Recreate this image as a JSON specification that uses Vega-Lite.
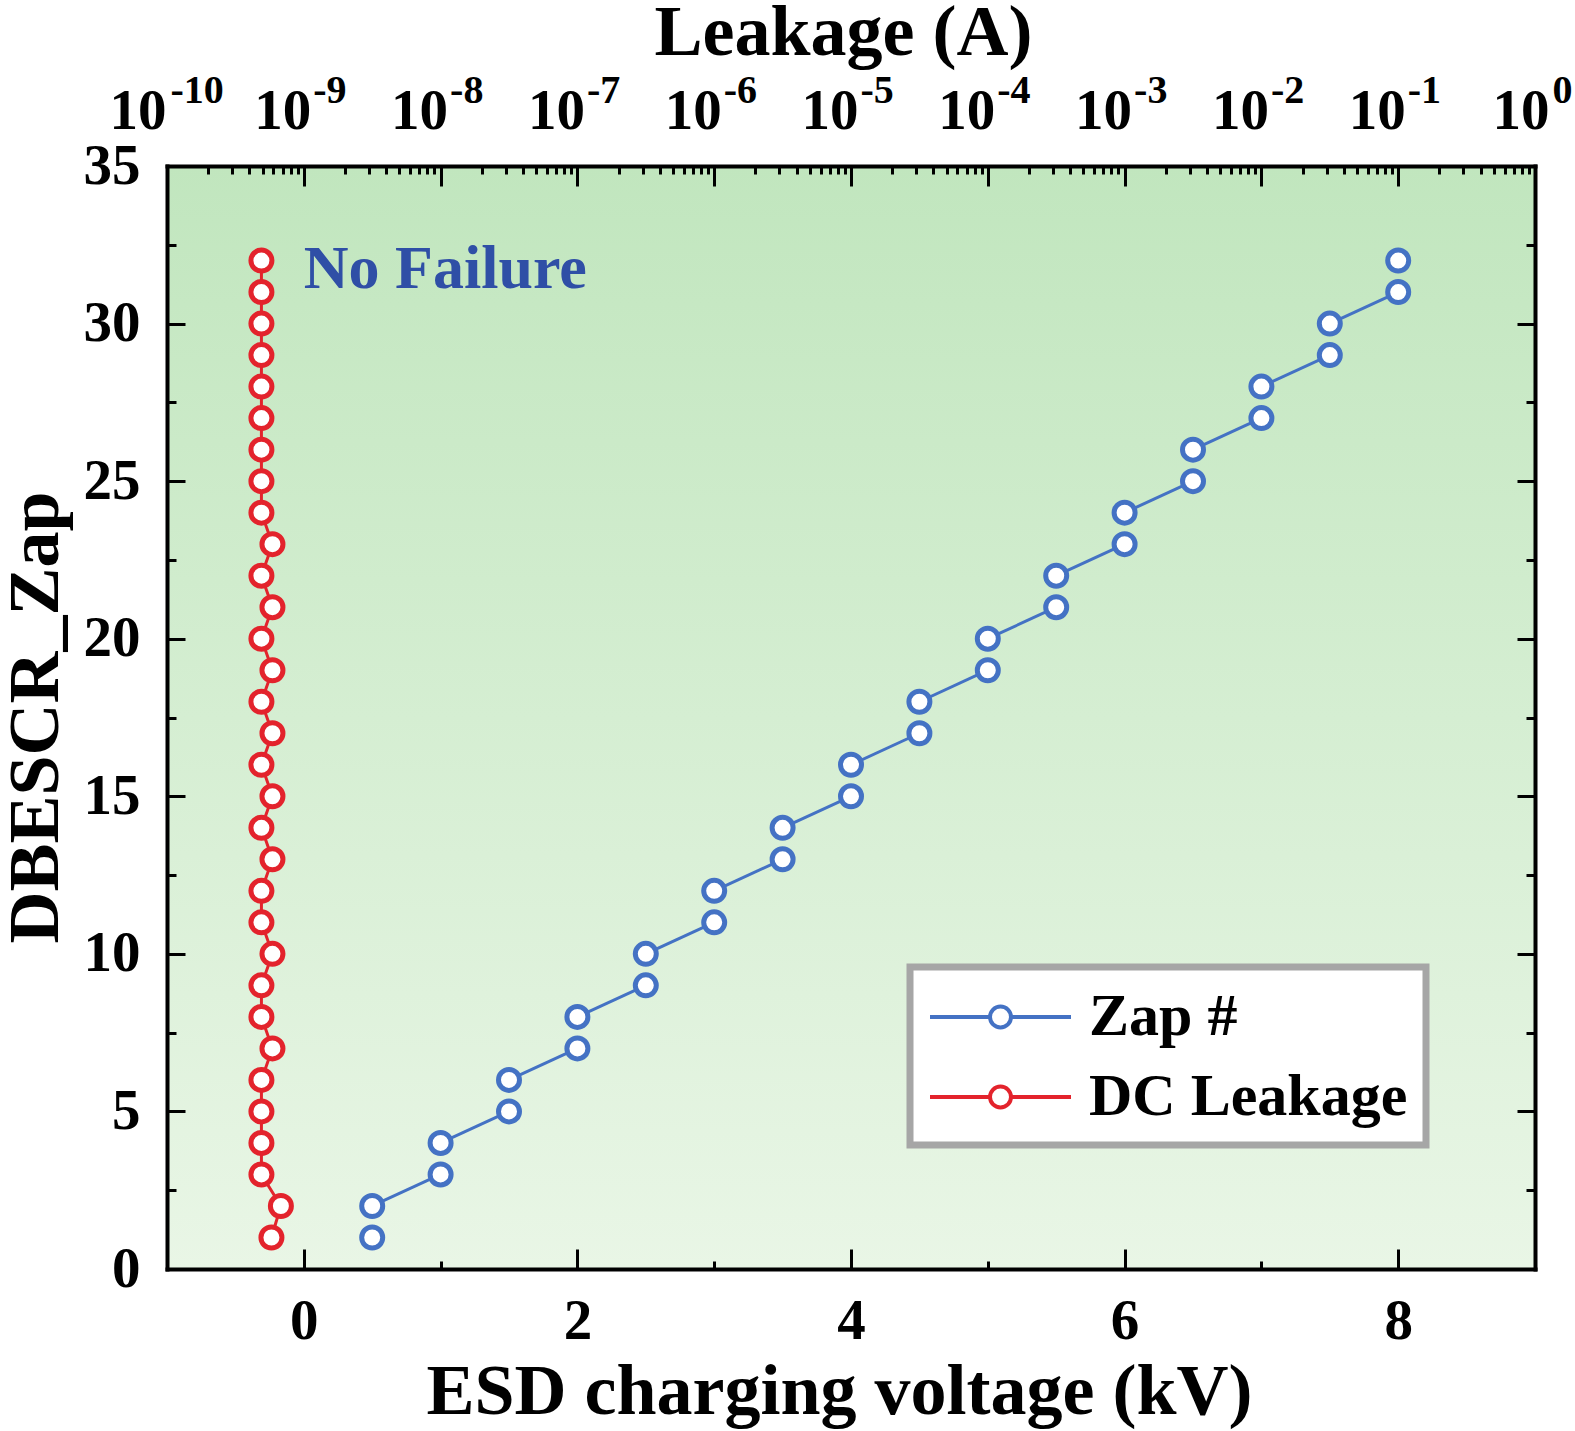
{
  "$schema": "https://vega.github.io/schema/vega-lite/v6.json",
  "description": "DBESCR zap count vs ESD charging voltage, with DC leakage on a log top axis",
  "width": 1368,
  "height": 1103,
  "autosize": {"type": "none"},
  "padding": {"left": 167, "top": 166, "right": 40, "bottom": 162},
  "background": "white",
  "datasets": {
    "zap": [
      {"kv": 0.5, "zap": 1, "seg": 0, "series": "Zap #"},
      {"kv": 0.5, "zap": 2, "seg": 1, "series": "Zap #"},
      {"kv": 1.0, "zap": 3, "seg": 1, "series": "Zap #"},
      {"kv": 1.0, "zap": 4, "seg": 2, "series": "Zap #"},
      {"kv": 1.5, "zap": 5, "seg": 2, "series": "Zap #"},
      {"kv": 1.5, "zap": 6, "seg": 3, "series": "Zap #"},
      {"kv": 2.0, "zap": 7, "seg": 3, "series": "Zap #"},
      {"kv": 2.0, "zap": 8, "seg": 4, "series": "Zap #"},
      {"kv": 2.5, "zap": 9, "seg": 4, "series": "Zap #"},
      {"kv": 2.5, "zap": 10, "seg": 5, "series": "Zap #"},
      {"kv": 3.0, "zap": 11, "seg": 5, "series": "Zap #"},
      {"kv": 3.0, "zap": 12, "seg": 6, "series": "Zap #"},
      {"kv": 3.5, "zap": 13, "seg": 6, "series": "Zap #"},
      {"kv": 3.5, "zap": 14, "seg": 7, "series": "Zap #"},
      {"kv": 4.0, "zap": 15, "seg": 7, "series": "Zap #"},
      {"kv": 4.0, "zap": 16, "seg": 8, "series": "Zap #"},
      {"kv": 4.5, "zap": 17, "seg": 8, "series": "Zap #"},
      {"kv": 4.5, "zap": 18, "seg": 9, "series": "Zap #"},
      {"kv": 5.0, "zap": 19, "seg": 9, "series": "Zap #"},
      {"kv": 5.0, "zap": 20, "seg": 10, "series": "Zap #"},
      {"kv": 5.5, "zap": 21, "seg": 10, "series": "Zap #"},
      {"kv": 5.5, "zap": 22, "seg": 11, "series": "Zap #"},
      {"kv": 6.0, "zap": 23, "seg": 11, "series": "Zap #"},
      {"kv": 6.0, "zap": 24, "seg": 12, "series": "Zap #"},
      {"kv": 6.5, "zap": 25, "seg": 12, "series": "Zap #"},
      {"kv": 6.5, "zap": 26, "seg": 13, "series": "Zap #"},
      {"kv": 7.0, "zap": 27, "seg": 13, "series": "Zap #"},
      {"kv": 7.0, "zap": 28, "seg": 14, "series": "Zap #"},
      {"kv": 7.5, "zap": 29, "seg": 14, "series": "Zap #"},
      {"kv": 7.5, "zap": 30, "seg": 15, "series": "Zap #"},
      {"kv": 8.0, "zap": 31, "seg": 15, "series": "Zap #"},
      {"kv": 8.0, "zap": 32, "seg": 16, "series": "Zap #"}
    ],
    "leak": [
      {"zap": 1, "leak": 5.8e-10, "series": "DC Leakage"},
      {"zap": 2, "leak": 6.8e-10, "series": "DC Leakage"},
      {"zap": 3, "leak": 4.9e-10, "series": "DC Leakage"},
      {"zap": 4, "leak": 4.9e-10, "series": "DC Leakage"},
      {"zap": 5, "leak": 4.9e-10, "series": "DC Leakage"},
      {"zap": 6, "leak": 4.9e-10, "series": "DC Leakage"},
      {"zap": 7, "leak": 5.9e-10, "series": "DC Leakage"},
      {"zap": 8, "leak": 4.9e-10, "series": "DC Leakage"},
      {"zap": 9, "leak": 4.9e-10, "series": "DC Leakage"},
      {"zap": 10, "leak": 5.9e-10, "series": "DC Leakage"},
      {"zap": 11, "leak": 4.9e-10, "series": "DC Leakage"},
      {"zap": 12, "leak": 4.9e-10, "series": "DC Leakage"},
      {"zap": 13, "leak": 5.9e-10, "series": "DC Leakage"},
      {"zap": 14, "leak": 4.9e-10, "series": "DC Leakage"},
      {"zap": 15, "leak": 5.9e-10, "series": "DC Leakage"},
      {"zap": 16, "leak": 4.9e-10, "series": "DC Leakage"},
      {"zap": 17, "leak": 5.9e-10, "series": "DC Leakage"},
      {"zap": 18, "leak": 4.9e-10, "series": "DC Leakage"},
      {"zap": 19, "leak": 5.9e-10, "series": "DC Leakage"},
      {"zap": 20, "leak": 4.9e-10, "series": "DC Leakage"},
      {"zap": 21, "leak": 5.9e-10, "series": "DC Leakage"},
      {"zap": 22, "leak": 4.9e-10, "series": "DC Leakage"},
      {"zap": 23, "leak": 5.9e-10, "series": "DC Leakage"},
      {"zap": 24, "leak": 4.9e-10, "series": "DC Leakage"},
      {"zap": 25, "leak": 4.9e-10, "series": "DC Leakage"},
      {"zap": 26, "leak": 4.9e-10, "series": "DC Leakage"},
      {"zap": 27, "leak": 4.9e-10, "series": "DC Leakage"},
      {"zap": 28, "leak": 4.9e-10, "series": "DC Leakage"},
      {"zap": 29, "leak": 4.9e-10, "series": "DC Leakage"},
      {"zap": 30, "leak": 4.9e-10, "series": "DC Leakage"},
      {"zap": 31, "leak": 4.9e-10, "series": "DC Leakage"},
      {"zap": 32, "leak": 4.9e-10, "series": "DC Leakage"}
    ]
  },
  "config": {
    "view": {
      "stroke": null,
      "fill": {
        "gradient": "linear", "x1": 0, "y1": 0, "x2": 0, "y2": 1,
        "stops": [{"offset": 0, "color": "#c1e6be"}, {"offset": 1, "color": "#e9f6e6"}]
      }
    },
    "axis": {
      "grid": false,
      "domainColor": "black",
      "domainWidth": 4,
      "domainCap": "square",
      "tickColor": "black",
      "tickWidth": 3,
      "labelFont": "Liberation Serif",
      "labelFontWeight": "bold",
      "labelFontSize": 57,
      "labelColor": "black",
      "labelFlush": false,
      "labelOverlap": false,
      "labelBound": false,
      "titleFont": "Liberation Serif",
      "titleFontWeight": "bold",
      "titleFontSize": 72,
      "titleColor": "black"
    },
    "legend": {
      "fillColor": "white",
      "strokeColor": "#a6a6a6",
      "strokeWidth": 7,
      "padding": 18,
      "labelFont": "Liberation Serif",
      "labelFontWeight": "bold",
      "labelFontSize": 60,
      "labelColor": "black",
      "labelLimit": 0,
      "labelOffset": 97,
      "rowPadding": 18,
      "symbolSize": 3600,
      "symbolStrokeWidth": 4,
      "symbolFillColor": "white",
      "symbolOpacity": 1,
      "symbolType": "M-1,0H1M1,0A0.35,0.35 0 1,0 1.7,0A0.35,0.35 0 1,0 1,0M1.7,0H3.7"
    }
  },
  "layer": [
    {
      "data": {"name": "zap"},
      "encoding": {
        "x": {
          "field": "kv", "type": "quantitative",
          "scale": {"domain": [-1, 9], "nice": false, "zero": false},
          "axis": {
            "orient": "bottom",
            "values": [0, 1, 2, 3, 4, 5, 6, 7, 8],
            "labelExpr": "datum.value % 2 === 0 ? datum.label : ''",
            "tickSize": {"condition": {"test": "datum.value % 2 === 0", "value": -20}, "value": -8},
            "labelPadding": 89,
            "labelBaseline": "alphabetic",
            "title": "ESD charging voltage (kV)",
            "titleX": 672,
            "titleY": 144,
            "titleBaseline": "alphabetic"
          }
        },
        "y": {
          "field": "zap", "type": "quantitative",
          "scale": {"domain": [0, 35], "nice": false, "zero": false},
          "axis": {
            "orient": "left",
            "values": [0, 2.5, 5, 7.5, 10, 12.5, 15, 17.5, 20, 22.5, 25, 27.5, 30, 32.5, 35],
            "labelExpr": "datum.value % 5 === 0 ? datum.label : ''",
            "tickSize": {"condition": {"test": "datum.value % 5 === 0", "value": -18}, "value": -9},
            "labelPadding": 45,
            "labelBaseline": "middle",
            "title": "DBESCR_Zap",
            "titleAngle": 270,
            "titleX": -110,
            "titleY": 551,
            "titleAlign": "center",
            "titleBaseline": "alphabetic"
          }
        }
      },
      "layer": [
        {
          "mark": {"type": "line", "color": "#4472c4", "strokeWidth": 3},
          "encoding": {
            "detail": {"field": "seg", "type": "nominal"},
            "order": {"field": "zap", "type": "quantitative"}
          }
        },
        {
          "mark": {"type": "point", "shape": "circle", "filled": true, "fill": "white", "size": 441, "strokeWidth": 5, "opacity": 1},
          "encoding": {
            "stroke": {
              "field": "series", "type": "nominal",
              "scale": {"domain": ["Zap #", "DC Leakage"], "range": ["#4472c4", "#e3232c"]},
              "legend": {"title": null, "orient": "none", "legendX": 743, "legendY": 801}
            }
          }
        },
        {
          "data": {"values": [{"kv": 0, "zap": 31.14, "label": "No Failure"}]},
          "mark": {"type": "text", "align": "left", "baseline": "alphabetic", "font": "Liberation Serif", "fontWeight": "bold", "fontSize": 62, "color": "#2f4fa6"},
          "encoding": {"text": {"field": "label", "type": "nominal"}}
        }
      ]
    },
    {
      "data": {"name": "leak"},
      "encoding": {
        "x": {
          "field": "leak", "type": "quantitative",
          "scale": {"type": "log", "domain": [1e-10, 1], "nice": false},
          "axis": {
            "orient": "top",
            "values": [1e-10, 2e-10, 3e-10, 4e-10, 5e-10, 6e-10, 7e-10, 8e-10, 9e-10,
                       1e-9, 2e-9, 3e-9, 4e-9, 5e-9, 6e-9, 7e-9, 8e-9, 9e-9,
                       1e-8, 2e-8, 3e-8, 4e-8, 5e-8, 6e-8, 7e-8, 8e-8, 9e-8,
                       1e-7, 2e-7, 3e-7, 4e-7, 5e-7, 6e-7, 7e-7, 8e-7, 9e-7,
                       1e-6, 2e-6, 3e-6, 4e-6, 5e-6, 6e-6, 7e-6, 8e-6, 9e-6,
                       1e-5, 2e-5, 3e-5, 4e-5, 5e-5, 6e-5, 7e-5, 8e-5, 9e-5,
                       1e-4, 2e-4, 3e-4, 4e-4, 5e-4, 6e-4, 7e-4, 8e-4, 9e-4,
                       0.001, 0.002, 0.003, 0.004, 0.005, 0.006, 0.007, 0.008, 0.009,
                       0.01, 0.02, 0.03, 0.04, 0.05, 0.06, 0.07, 0.08, 0.09,
                       0.1, 0.2, 0.3, 0.4, 0.5, 0.6, 0.7, 0.8, 0.9, 1],
            "labelExpr": "abs(log(datum.value)/LN10 - round(log(datum.value)/LN10)) < 0.001 ? '10' : ''",
            "labelAlign": "right",
            "labelOffset": {"condition": [{"test": "datum.value < 5e-10", "value": -1}, {"test": "datum.value > 0.5", "value": 14}], "value": 7},
            "tickSize": {"condition": {"test": "abs(log(datum.value)/LN10 - round(log(datum.value)/LN10)) < 0.001", "value": -20}, "value": -8},
            "labelPadding": 58,
            "labelBaseline": "alphabetic",
            "title": "Leakage (A)",
            "titleX": 676,
            "titleY": -112,
            "titleBaseline": "alphabetic"
          }
        },
        "y": {
          "field": "zap", "type": "quantitative",
          "scale": {"domain": [0, 35], "nice": false, "zero": false},
          "axis": {
            "orient": "right",
            "values": [0, 2.5, 5, 7.5, 10, 12.5, 15, 17.5, 20, 22.5, 25, 27.5, 30, 32.5, 35],
            "labels": false,
            "tickSize": {"condition": {"test": "datum.value % 5 === 0", "value": -18}, "value": -9},
            "title": null
          }
        }
      },
      "layer": [
        {
          "mark": {"type": "line", "color": "#e3232c", "strokeWidth": 3},
          "encoding": {"order": {"field": "zap", "type": "quantitative"}}
        },
        {
          "mark": {"type": "point", "shape": "circle", "filled": true, "fill": "white", "size": 441, "strokeWidth": 5, "opacity": 1},
          "encoding": {
            "stroke": {
              "field": "series", "type": "nominal",
              "scale": {"domain": ["Zap #", "DC Leakage"], "range": ["#4472c4", "#e3232c"]},
              "legend": {"title": null, "orient": "none", "legendX": 743, "legendY": 801}
            }
          }
        }
      ]
    },
    {
      "data": {"name": "leak"},
      "mark": {"type": "point", "opacity": 0},
      "encoding": {
        "x": {
          "field": "leak", "type": "quantitative",
          "scale": {"type": "log", "domain": [1e-10, 1], "nice": false},
          "axis": {
            "orient": "top",
            "values": [1e-10, 1e-9, 1e-8, 1e-7, 1e-6, 1e-5, 1e-4, 0.001, 0.01, 0.1, 1],
            "labelExpr": "round(log(datum.value)/LN10) + ''",
            "labelAlign": "left",
            "labelOffset": {"condition": [{"test": "datum.value < 5e-10", "value": 3}, {"test": "datum.value > 0.5", "value": 17}], "value": 9},
            "labelFontSize": 40,
            "labelBaseline": "alphabetic",
            "labelPadding": 64,
            "ticks": false,
            "domain": false,
            "title": null
          }
        },
        "y": {
          "field": "zap", "type": "quantitative",
          "scale": {"domain": [0, 35], "nice": false, "zero": false},
          "axis": null
        }
      }
    }
  ],
  "resolve": {"scale": {"x": "independent"}}
}
